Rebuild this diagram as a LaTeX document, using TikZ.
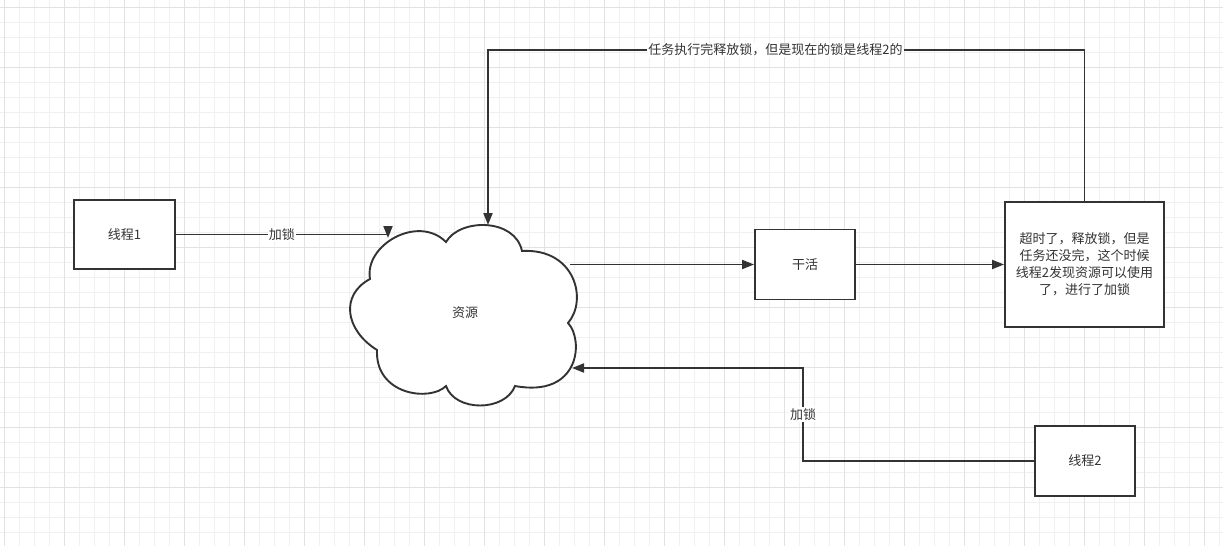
\documentclass[tikz,border=0pt]{standalone}
\usepackage{fontspec}
\newfontfamily\cjk{Noto Sans CJK SC}
\usetikzlibrary{arrows.meta}
\definecolor{ink}{HTML}{333333}
\definecolor{gridminor}{HTML}{F0F0F0}
\definecolor{gridmajor}{HTML}{E2E2E2}
\begin{document}
\begin{tikzpicture}[x=1pt,y=-1pt,
  box/.style={draw=ink, line width=1.9pt, fill=white, inner sep=0pt, font=\cjk\fontsize{13}{17}\selectfont, text=ink},
  conn/.style={draw=ink, line width=1.9pt, -{Triangle[length=12pt,width=9pt]}},
  lbl/.style={fill=white, inner sep=1pt, font=\cjk\fontsize{13}{17}\selectfont, text=ink},
  cloudline/.style={draw=ink, line width=1.9pt, fill=white}]
\useasboundingbox (0,0) rectangle (1223,546);
\fill[white] (0,0) rectangle (1223,546);
\foreach \x in {4,19,...,1223} \draw[gridminor, line width=1pt] (\x,0) -- (\x,546);
\foreach \y in {7,22,...,546} \draw[gridminor, line width=1pt] (0,\y) -- (1223,\y);
\foreach \x in {4,64,...,1223} \draw[gridmajor, line width=1pt] (\x,0) -- (\x,546);
\foreach \y in {7,67,...,546} \draw[gridmajor, line width=1pt] (0,\y) -- (1223,\y);

% cloud
\draw[cloudline] (370,279) .. controls (364,245) and (418,214) .. (446,242)
 .. controls (460,218) and (515,218) .. (522,251)
 .. controls (575,248) and (588,300) .. (568,323)
 .. controls (584,340) and (580,398) .. (515,386)
 .. controls (505,412) and (455,412) .. (446,386)
 .. controls (430,402) and (375,395) .. (377,350)
 .. controls (345,330) and (340,295) .. (370,279) -- cycle;
\node[lbl, fill=none] (res) at (465,313) {资源};

% boxes
\node[box, minimum width=101pt, minimum height=69pt] (t1) at (124.5,234.5) {线程1};
\node[box, minimum width=100pt, minimum height=70pt] (gan) at (805,264.5) {干活};
\node[box, minimum width=159pt, minimum height=125pt, align=center] (big) at (1084.5,264.5)
  {超时了，释放锁，但是\\任务还没完，这个时候\\线程2发现资源可以使用\\了，进行了加锁};
\node[box, minimum width=100pt, minimum height=70pt] (t2) at (1085,461) {线程2};

% connector points
\coordinate (inTL) at (388,238);
\coordinate (inTop) at (488,225);
\coordinate (outR) at (570,264.5);
\coordinate (inR) at (572,368);
\coordinate (bend2) at (803,368);
\coordinate (topR) at (1084.5,50);
\coordinate (topL) at (488,50);

% connectors
\draw[conn] (t1.east) -- node[lbl]{加锁} (t1.east -| inTL) -- (inTL);
\draw[conn] (big.north) -- (topR) -- node[lbl, pos=0.518]{任务执行完释放锁，但是现在的锁是线程2的} (topL) -- (inTop);
\draw[conn] (outR) -- (gan.west);
\draw[conn] (gan.east) -- (gan.east -| big.west);
\draw[conn] (t2.west) -- (bend2 |- t2.west) -- node[lbl]{加锁} (bend2) -- (inR);
\end{tikzpicture}
\end{document}
